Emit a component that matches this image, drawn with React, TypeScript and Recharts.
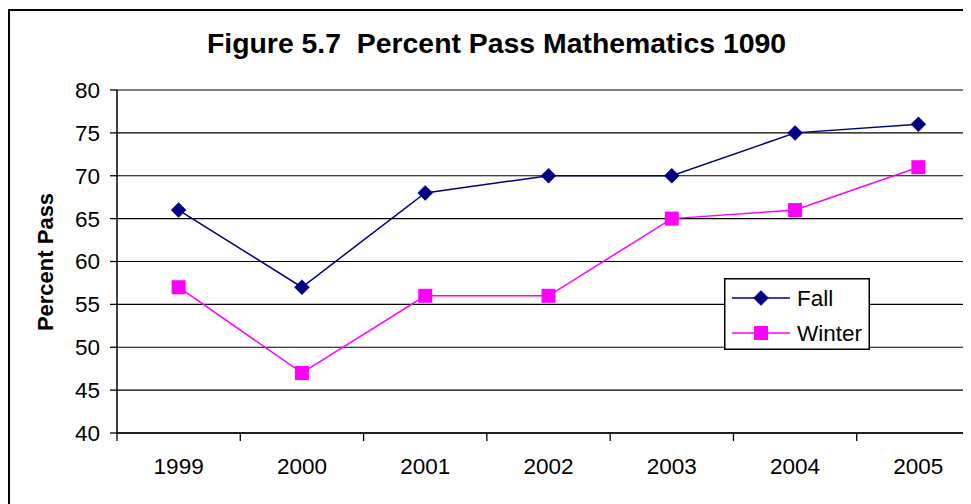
import React from 'react';
import { LineChart, Line, XAxis, YAxis, CartesianGrid } from 'recharts';

const years = ['1999', '2000', '2001', '2002', '2003', '2004', '2005'];
const fall = [66, 57, 68, 70, 70, 75, 76];
const winter = [57, 47, 56, 56, 65, 66, 71];
const yTicks = [40, 45, 50, 55, 60, 65, 70, 75, 80];

const data = years.map((year, i) => ({ year, Fall: fall[i], Winter: winter[i] }));

const FONT = 'Arial, "Liberation Sans", sans-serif';
const NAVY = '#000080';
const MAGENTA = '#FF00FF';
const TICK_FONT = 22.5;

const CHART_W = 1000;
const CHART_H = 496;
const MARGIN = { top: 82, right: 28, bottom: 0, left: 0 };
const Y_AXIS_W = 109;
const X_AXIS_H = 71;
const BAND = (CHART_W - MARGIN.left - MARGIN.right - Y_AXIS_W) / years.length;

const Diamond = (props: any) => {
  const { cx, cy, fill } = props;
  if (cx == null || cy == null) return null;
  const r = 7.5;
  return (
    <polygon
      points={`${cx},${cy - r} ${cx + r},${cy} ${cx},${cy + r} ${cx - r},${cy}`}
      fill={fill}
      stroke={fill}
      strokeWidth={0.5}
    />
  );
};

const Square = (props: any) => {
  const { cx, cy, fill } = props;
  if (cx == null || cy == null) return null;
  const h = 7;
  return <rect x={cx - h} y={cy - h} width={h * 2} height={h * 2} fill={fill} />;
};

// Category label centered in its band, with tick marks on the band boundaries
const XTick = (props: any) => {
  const { x, y, payload } = props;
  const left = x - BAND / 2;
  return (
    <g>
      <line x1={left} y1={y} x2={left} y2={y + 8} stroke="#000" strokeWidth={1.3} />
      <text x={x} y={y + 41} textAnchor="middle" fontFamily={FONT} fontSize={TICK_FONT} fill="#000">
        {payload.value}
      </text>
    </g>
  );
};

const LegendBox = () => {
  const rows = [
    { name: 'Fall', color: NAVY, shape: 'diamond' },
    { name: 'Winter', color: MAGENTA, shape: 'square' },
  ];
  return (
    <svg width={146} height={72} style={{ display: 'block' }}>
      <rect x={0.75} y={0.75} width={144.5} height={70.5} fill="#fff" stroke="#000" strokeWidth={1.5} />
      {rows.map((r, i) => {
        const cy = 20 + i * 35;
        return (
          <g key={r.name}>
            <line x1={8} y1={cy} x2={66} y2={cy} stroke={r.color} strokeWidth={1.5} />
            {r.shape === 'diamond' ? (
              <Diamond cx={37} cy={cy} fill={r.color} />
            ) : (
              <Square cx={37} cy={cy} fill={r.color} />
            )}
            <text x={73} y={cy + 8} fontFamily={FONT} fontSize={TICK_FONT} fill="#000">
              {r.name}
            </text>
          </g>
        );
      })}
    </svg>
  );
};

export default function App() {
  return (
    <div
      style={{
        position: 'relative',
        width: 963,
        height: 496,
        overflow: 'hidden',
        background: '#fff',
      }}
    >
      <div
        style={{
          position: 'absolute',
          left: 0,
          top: 1,
          width: 1200,
          height: 800,
          borderLeft: '2px solid #000',
          borderTop: '2px solid #000',
          boxSizing: 'border-box',
        }}
      />
      <div
        style={{
          position: 'absolute',
          left: 0,
          width: 977,
          top: 19,
          textAlign: 'center',
          fontFamily: FONT,
          fontWeight: 'bold',
          fontSize: 28.4,
          whiteSpace: 'pre',
          color: '#000',
        }}
      >
        {'Figure 5.7  Percent Pass Mathematics 1090'}
      </div>
      <div
        style={{
          position: 'absolute',
          left: 38,
          top: 254,
          transform: 'translate(-50%, -50%) rotate(-90deg)',
          fontFamily: FONT,
          fontWeight: 'bold',
          fontSize: 22,
          whiteSpace: 'nowrap',
          color: '#000',
        }}
      >
        Percent Pass
      </div>
      <div style={{ position: 'absolute', left: 0, top: 0 }}>
        <LineChart width={CHART_W} height={CHART_H} data={data} margin={MARGIN}>
          <CartesianGrid vertical={false} stroke="#000" strokeWidth={1.2} />
          <XAxis
            dataKey="year"
            height={X_AXIS_H}
            padding={{ left: BAND / 2, right: BAND / 2 }}
            axisLine={{ stroke: '#000', strokeWidth: 1.5 }}
            tickLine={false}
            tickSize={0}
            tickMargin={0}
            tick={<XTick />}
            interval={0}
          />
          <YAxis
            width={Y_AXIS_W}
            domain={[40, 80]}
            ticks={yTicks}
            interval={0}
            axisLine={{ stroke: '#000', strokeWidth: 1.5 }}
            tickLine={{ stroke: '#000', strokeWidth: 1.3 }}
            tickSize={7}
            tickMargin={10}
            tick={{ fontFamily: FONT, fontSize: TICK_FONT, fill: '#000' }}
          />
          <Line
            type="linear"
            dataKey="Fall"
            stroke={NAVY}
            strokeWidth={1.5}
            dot={<Diamond fill={NAVY} />}
            activeDot={false}
            isAnimationActive={false}
          />
          <Line
            type="linear"
            dataKey="Winter"
            stroke={MAGENTA}
            strokeWidth={1.5}
            dot={<Square fill={MAGENTA} />}
            activeDot={false}
            isAnimationActive={false}
          />
        </LineChart>
      </div>
      <div style={{ position: 'absolute', left: 716, top: 270 }}>
        <LegendBox />
      </div>
    </div>
  );
}
